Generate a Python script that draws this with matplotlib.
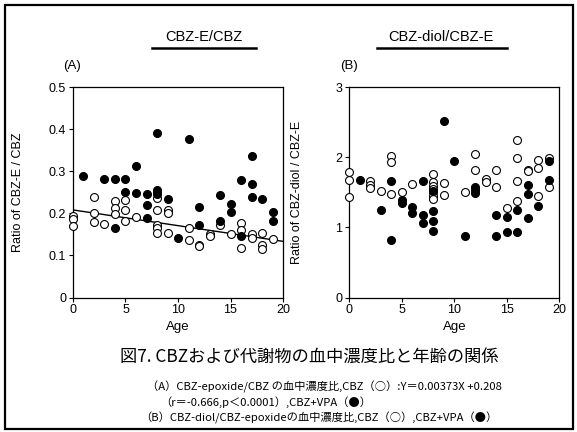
import numpy as np
import matplotlib
matplotlib.use('Agg')
import matplotlib.pyplot as plt
from matplotlib.patches import Rectangle
from matplotlib.lines import Line2D

plt.rcParams['font.family'] = ['Liberation Sans', 'DejaVu Sans']
jp_font = ['Noto Sans CJK JP', 'DejaVu Sans']

# panel A: CBZ-E / CBZ
a_cbz_age = [0, 0, 0, 2, 2, 2, 3, 4, 4, 4, 5, 5, 5, 6, 8, 8, 8, 8, 8, 9, 9, 9,
             11, 11, 12, 12, 13, 13, 14, 15, 16, 16, 16, 17, 17, 18, 18, 18, 19]
a_cbz_val = [0.193, 0.186, 0.170, 0.239, 0.200, 0.179, 0.174, 0.230, 0.212, 0.198,
             0.232, 0.207, 0.182, 0.191, 0.236, 0.208, 0.172, 0.164, 0.154,
             0.207, 0.200, 0.153, 0.166, 0.137, 0.125, 0.123, 0.152, 0.146,
             0.172, 0.152, 0.176, 0.160, 0.118, 0.152, 0.141, 0.154, 0.125,
             0.115, 0.139]
a_vpa_age = [1, 3, 4, 5, 6, 5, 6, 7, 7, 7, 8, 8, 8, 8, 9, 4, 11, 10, 12, 12,
             14, 14, 15, 15, 16, 16, 17, 17, 17, 18, 19, 19]
a_vpa_val = [0.289, 0.281, 0.281, 0.281, 0.313, 0.250, 0.249, 0.245, 0.220, 0.188,
             0.391, 0.255, 0.250, 0.245, 0.233, 0.164, 0.376, 0.142, 0.216, 0.172,
             0.243, 0.182, 0.221, 0.204, 0.279, 0.147, 0.335, 0.270, 0.238,
             0.235, 0.202, 0.182]
a_slope = -0.00373
a_icpt = 0.208

# panel B: CBZ-diol / CBZ-E
b_cbz_age = [0, 0, 0, 2, 2, 2, 3, 4, 4, 4, 5, 6, 8, 8, 8, 8, 8, 8, 8, 9, 9, 11,
             12, 12, 13, 13, 14, 14, 15, 16, 16, 16, 16, 17, 17, 18, 18, 18, 19, 19]
b_cbz_val = [1.79, 1.67, 1.43, 1.66, 1.60, 1.56, 1.52, 2.01, 1.93, 1.47, 1.51, 1.62,
             1.76, 1.64, 1.59, 1.54, 1.50, 1.45, 1.40, 1.63, 1.46, 1.51,
             2.04, 1.81, 1.69, 1.65, 1.81, 1.57, 1.27, 2.24, 1.99, 1.66, 1.38,
             1.82, 1.80, 1.96, 1.84, 1.44, 1.99, 1.57]
b_vpa_age = [1, 3, 4, 4, 5, 5, 6, 6, 7, 7, 7, 8, 8, 8, 8, 9, 10, 11, 12, 12, 12,
             14, 14, 15, 15, 16, 16, 17, 17, 17, 18, 19, 19]
b_vpa_val = [1.67, 1.24, 1.66, 0.82, 1.39, 1.35, 1.29, 1.20, 1.66, 1.18, 1.06,
             1.52, 1.23, 1.09, 0.95, 2.51, 1.94, 0.87, 1.58, 1.53, 1.49,
             1.17, 0.87, 1.15, 0.93, 1.24, 0.93, 1.61, 1.48, 1.13, 1.31, 1.95, 1.67]

W, H = 577, 432
fig = plt.figure(figsize=(W / 100, H / 100), dpi=100)

def px(x, y):
    return x / W, 1 - y / H

def setup(ax, ylim, yticks, yticklabels, ylabel):
    ax.set_xlim(0, 20)
    ax.set_ylim(*ylim)
    ax.set_xticks([0, 5, 10, 15, 20])
    ax.set_yticks(yticks)
    ax.set_yticklabels(yticklabels)
    ax.tick_params(direction='out', length=3, width=0.8, labelsize=9, pad=2)
    for s in ax.spines.values():
        s.set_linewidth(0.9)
    ax.set_xlabel('Age', fontsize=9.5, labelpad=3)
    ax.set_ylabel(ylabel, fontsize=9)

axA = fig.add_axes([73 / W, 1 - 297.5 / H, 210 / W, 210.5 / H])
axB = fig.add_axes([349.3 / W, 1 - 297.5 / H, 210 / W, 210.5 / H])

setup(axA, (0, 0.5), [0, 0.1, 0.2, 0.3, 0.4, 0.5], ['0', '0.1', '0.2', '0.3', '0.4', '0.5'],
      'Ratio of CBZ-E / CBZ')
setup(axB, (0, 3), [0, 1, 2, 3], ['0', '1', '2', '3'], 'Ratio of CBZ-diol / CBZ-E')
axA.yaxis.set_label_coords(-0.235, 0.5)
axB.yaxis.set_label_coords(-0.22, 0.5)

ms = 5.7
for ax, oa, ov, fa, fv in [(axA, a_cbz_age, a_cbz_val, a_vpa_age, a_vpa_val),
                           (axB, b_cbz_age, b_cbz_val, b_vpa_age, b_vpa_val)]:
    ax.plot(oa, ov, 'o', ms=ms, mfc='white', mec='black', mew=0.8, clip_on=False, zorder=3)
    ax.plot(fa, fv, 'o', ms=ms, mfc='black', mec='black', mew=0.8, clip_on=False, zorder=4)

xs = np.array([0, 20])
axA.plot(xs, a_icpt + a_slope * xs, color='black', lw=1.0, zorder=2)

# headings with underline
fig.text(*px(204, 37), 'CBZ-E/CBZ', ha='center', va='center', fontsize=10.5)
fig.add_artist(Line2D([152 / W, 256 / W], [1 - 47.5 / H] * 2, color='black', lw=1.8))
fig.text(*px(441, 37), 'CBZ-diol/CBZ-E', ha='center', va='center', fontsize=10.5)
fig.add_artist(Line2D([377 / W, 507 / W], [1 - 47.5 / H] * 2, color='black', lw=1.8))

fig.text(*px(63, 66), '(A)', ha='left', va='center', fontsize=9.5)
fig.text(*px(340, 66), '(B)', ha='left', va='center', fontsize=9.5)

# caption
fig.text(*px(120, 357), '図7. CBZおよび代謝物の血中濃度比と年齢の関係', ha='left', va='center',
         fontsize=12.4, family=jp_font)
fig.text(*px(147, 387), '（A）CBZ-epoxide/CBZ の血中濃度比,CBZ（○）:Y＝0.00373X +0.208',
         ha='left', va='center', fontsize=8.1, family=jp_font)
fig.text(*px(160, 402), '（r＝-0.666,p＜0.0001）,CBZ+VPA（●）',
         ha='left', va='center', fontsize=8.1, family=jp_font)
fig.text(*px(140, 418), '（B）CBZ-diol/CBZ-epoxideの血中濃度比,CBZ（○）,CBZ+VPA（●）',
         ha='left', va='center', fontsize=8.1, family=jp_font)

# outer frame
fig.add_artist(Rectangle((4.5 / W, 1 - 429 / H), 568.5 / W, 424.5 / H, fill=False,
                         edgecolor='black', lw=1.6, transform=fig.transFigure))

fig.savefig('out.png', dpi=100)
